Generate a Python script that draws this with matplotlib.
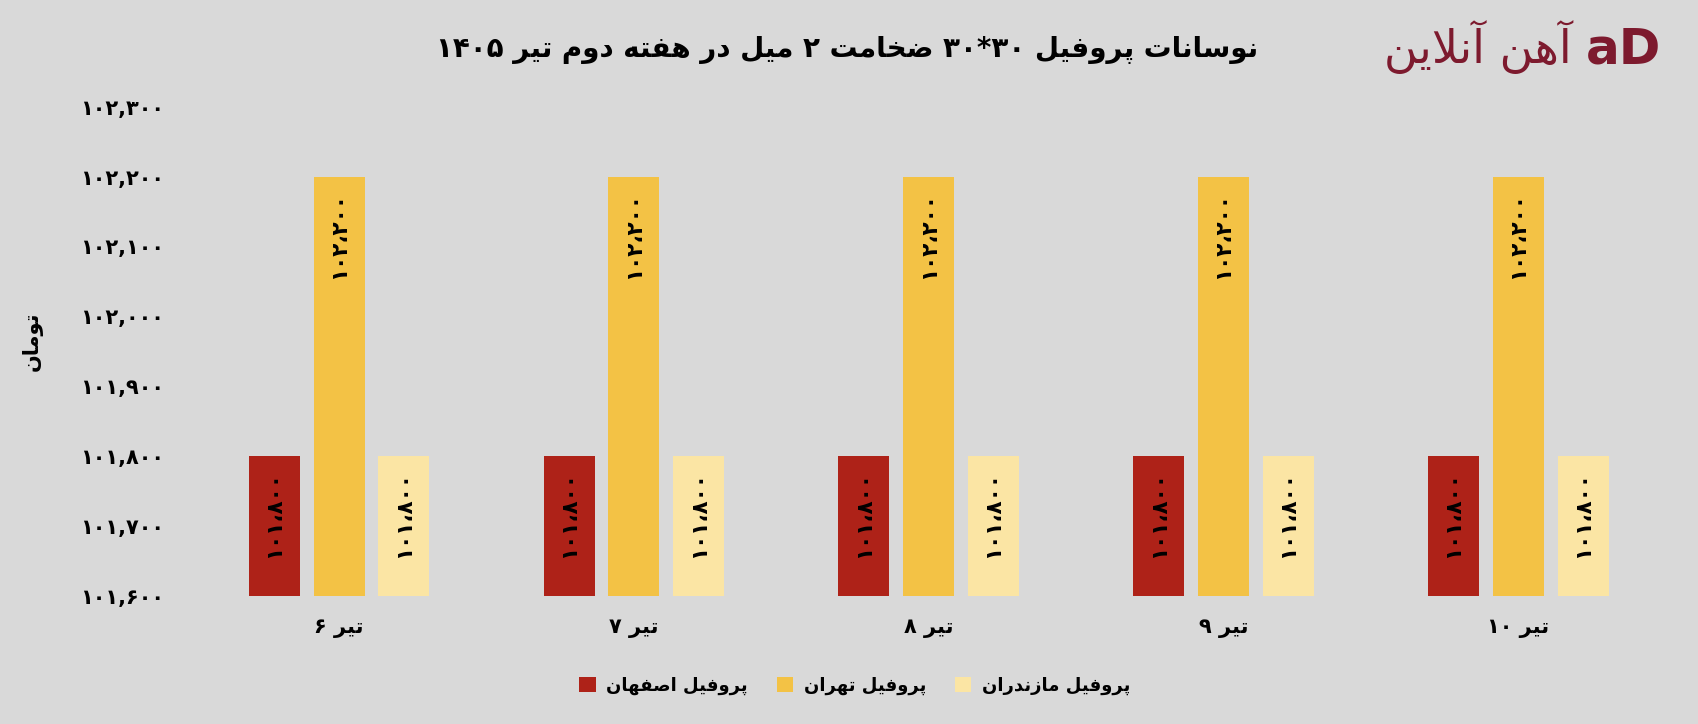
import matplotlib
matplotlib.use("Agg")
import matplotlib.pyplot as plt
import numpy as np
from matplotlib.patches import Patch

# ---------------- data ----------------
dates = ["تیر ۶", "تیر ۷", "تیر ۸", "تیر ۹", "تیر ۱۰"]
series_names = ["پروفیل اصفهان", "پروفیل تهران", "پروفیل مازندران"]
isfahan = [101800, 101800, 101800, 101800, 101800]
tehran = [102200, 102200, 102200, 102200, 102200]
mazandaran = [101800, 101800, 101800, 101800, 101800]
yticks = [101600, 101700, 101800, 101900, 102000, 102100, 102200, 102300]
title_text = "نوسانات پروفیل ۳۰*۳۰ ضخامت ۲ میل در هفته دوم تیر ۱۴۰۵"
ylabel_text = "تومان"
logo_text = "آهن آنلاین"

colors = ["#ae2218", "#f3c245", "#fbe5a4"]
bg = "#d9d9d9"
logo_color = "#7d1a2e"

# ---------------- simple Persian shaping + visual ordering ----------------
DUAL = {'ب': 0xFE8F, 'پ': 0xFB56, 'ت': 0xFE95, 'ث': 0xFE99, 'ج': 0xFE9D, 'ح': 0xFEA1,
        'خ': 0xFEA5, 'س': 0xFEB1, 'ش': 0xFEB5, 'ص': 0xFEB9, 'ض': 0xFEBD, 'ط': 0xFEC1,
        'ظ': 0xFEC5, 'ع': 0xFEC9, 'غ': 0xFECD, 'ف': 0xFED1, 'ق': 0xFED5, 'ک': 0xFB8E,
        'گ': 0xFB92, 'ل': 0xFEDD, 'م': 0xFEE1, 'ن': 0xFEE5, 'ه': 0xFEE9, 'ی': 0xFBFC,
        'ي': 0xFEF1}
RIGHT = {'ا': 0xFE8D, 'آ': 0xFE81, 'د': 0xFEA9, 'ذ': 0xFEAB, 'ر': 0xFEAD, 'ز': 0xFEAF,
         'ژ': 0xFB8A, 'و': 0xFEED}


def shape(s):
    out = []
    i = 0
    n = len(s)
    while i < n:
        c = s[i]
        prev = s[i - 1] if i > 0 else ''
        if c == 'ل' and i + 1 < n and s[i + 1] in ('ا', 'آ'):
            base = 0xFEFB if s[i + 1] == 'ا' else 0xFEF5
            out.append(chr(base + (1 if prev in DUAL else 0)))
            i += 2
            continue
        if c in DUAL or c in RIGHT:
            nxt = s[i + 1] if i + 1 < n else ''
            jp = prev in DUAL
            jn = (c in DUAL) and (nxt in DUAL or nxt in RIGHT)
            base = DUAL.get(c, RIGHT.get(c))
            off = 3 if (jp and jn) else 1 if jp else 2 if jn else 0
            out.append(chr(base + off))
        else:
            out.append(c)
        i += 1
    return ''.join(out)


LTRCH = set('0123456789۰۱۲۳۴۵۶۷۸۹,*.،')


def rtl(s):
    s = shape(s)
    runs = []
    cur = ''
    cur_l = None
    for ch in s:
        l = ch in LTRCH
        if cur and l != cur_l:
            runs.append((cur, cur_l))
            cur = ''
        cur += ch
        cur_l = l
    if cur:
        runs.append((cur, cur_l))
    return ''.join(r if l else r[::-1] for r, l in reversed(runs))


def fa_num(v, sep=','):
    s = f"{v:,}".replace(',', sep)
    return s.translate(str.maketrans('0123456789', '۰۱۲۳۴۵۶۷۸۹'))


plt.rcParams['font.family'] = ['DejaVu Sans']
plt.rcParams['font.weight'] = 'bold'

fig = plt.figure(figsize=(16.98, 7.24), dpi=100, facecolor=bg)
ax = fig.add_axes([0.1129, 0.1773, 0.868, 0.6753], facecolor=bg)

x = np.arange(len(dates))
w = 0.173
offs = [-0.22, 0.0, 0.22]
all_series = [isfahan, tehran, mazandaran]
for k, (vals, col) in enumerate(zip(all_series, colors)):
    ax.bar(x + offs[k], vals, width=w, color=col, zorder=2)
    for xi, v in zip(x + offs[k], vals):
        ax.annotate(fa_num(v, '،'), xy=(xi, v), xytext=(0, -11),
                    textcoords='offset points', rotation=90,
                    ha='center', va='top', fontsize=15.5, fontweight='bold',
                    color='black', zorder=3)

ax.set_ylim(101600, 102300)
ax.set_xlim(-0.5, len(dates) - 0.5)
ax.set_yticks(yticks)
ax.set_yticklabels([fa_num(v) for v in yticks], fontsize=15, fontweight='bold')
ax.set_xticks(x)
ax.set_xticklabels([rtl(d) for d in dates], fontsize=15, fontweight='bold')
ax.tick_params(axis='y', length=0, pad=20)
ax.tick_params(axis='x', length=0, pad=16)
for sp in ax.spines.values():
    sp.set_visible(False)

fig.text(32 / 1698, 1 - 341 / 724, rtl(ylabel_text), rotation=90, ha='center',
         va='center', fontsize=15, fontweight='bold')

fig.text(847 / 1698, 1 - 50 / 724, rtl(title_text), ha='center', va='center',
         fontsize=20, fontweight='bold', color='black')

# logo
fig.text(1572 / 1698, 1 - 48 / 724, rtl(logo_text), ha='right', va='center',
         fontsize=33, fontweight='normal', color=logo_color)
fig.text(1624 / 1698, 1 - 49 / 724, "aD", ha='center', va='center',
         fontsize=36, fontweight='bold', color=logo_color)

handles = [Patch(facecolor=c) for c in colors]
fig.legend(handles, [rtl(s) for s in series_names], loc='center',
           bbox_to_anchor=(855 / 1698, 1 - 686 / 724), ncol=3, frameon=False,
           prop={'size': 13, 'weight': 'bold'}, handlelength=0.9,
           handleheight=0.9, handletextpad=0.6, columnspacing=1.6)

fig.savefig("out.png", dpi=100, facecolor=bg)
